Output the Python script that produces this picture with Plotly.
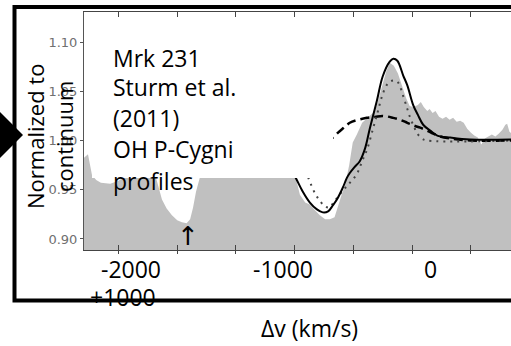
import plotly.graph_objects as go

# ---------------- data ----------------
spec_v = [-2800, -2760, -2726, -2690, -2650, -2570, -2500, -2450, -2400, -2300, -2230, -2180,
          -2130, -2090, -2045, -2000, -1960, -1920, -1890, -1865, -1840, -1815, -1790, -1700,
          -1400, -1100, -1010, -990, -955, -910, -870, -825, -785, -740, -700, -660, -640,
          -605, -570, -535, -505, -470, -425, -375, -315, -290, -255, -220, -190, -155, -120,
          -85, -50, -20, 10, 50, 75, 100, 130, 150, 175, 200, 230, 260, 290, 320, 350, 380,
          410, 440, 470, 500, 530, 560, 590, 620, 650, 680, 710, 740, 770, 795, 810, 830, 850]
spec_f = [0.982, 0.986, 0.965, 0.960, 0.957, 0.956, 0.959, 0.963, 0.968, 0.970, 0.967, 0.962,
          0.940, 0.931, 0.924, 0.919, 0.917, 0.916, 0.920, 0.932, 0.948, 0.960, 0.970, 0.978,
          0.980, 0.978, 0.968, 0.962, 0.945, 0.937, 0.935, 0.929, 0.924, 0.920, 0.920, 0.922,
          0.930, 0.943, 0.955, 0.975, 0.998, 1.006, 1.018, 1.023, 1.030, 1.040, 1.055, 1.070,
          1.079, 1.076, 1.068, 1.055, 1.043, 1.035, 1.034, 1.036, 1.039, 1.034, 1.030, 1.032,
          1.028, 1.030, 1.024, 1.022, 1.024, 1.021, 1.023, 1.019, 1.020, 1.018, 1.012, 1.008,
          1.005, 1.003, 0.996, 1.002, 1.004, 1.006, 1.004, 1.007, 1.011, 1.016, 1.017, 1.009,
          1.007]

total_v = [-2650, -1400, -1200, -1125, -1040, -990, -930, -870, -810, -760, -715, -675, -640,
           -590, -555, -530, -490, -445, -400, -360, -300, -250, -190, -160, -125, -75, -40,
           10, 50, 95, 155, 215, 325, 495, 850]
total_f = [1.000, 1.000, 0.999, 0.988, 0.973, 0.962, 0.948, 0.937, 0.930, 0.927, 0.928, 0.934,
           0.940, 0.952, 0.962, 0.967, 0.973, 0.979, 0.992, 1.012, 1.040, 1.065, 1.080, 1.083,
           1.081, 1.066, 1.056, 1.036, 1.026, 1.016, 1.010, 1.005, 1.003, 1.001, 1.001]

dotted_v = [-2650, -1100, -1000, -950, -910, -870, -810, -740, -700, -675, -590, -530, -470,
            -425, -380, -330, -290, -250, -205, -160, -120, -75, -40, -15, 20, 45, 85, 130, 850]
dotted_f = [1.000, 1.000, 0.997, 0.985, 0.972, 0.958, 0.943, 0.933, 0.932, 0.936, 0.949, 0.957,
            0.966, 0.979, 0.992, 1.013, 1.030, 1.047, 1.058, 1.061, 1.059, 1.045, 1.032, 1.023,
            1.013, 1.007, 1.002, 1.000, 1.000]

dashed_v = [-2650, -800, -740, -675, -630, -580, -530, -460, -385, -315, -250, -160, -100,
            -40, 20, 70, 130, 180, 240, 325, 495, 850]
dashed_f = [1.000, 1.000, 1.002, 1.003, 1.008, 1.013, 1.018, 1.021, 1.023, 1.024, 1.025, 1.023,
            1.021, 1.018, 1.015, 1.013, 1.010, 1.007, 1.004, 1.002, 1.000, 1.000]

y_ticks = [0.90, 0.95, 1.00, 1.05, 1.10]
x_labels = ["-2000", "-1000", "0"]
label_lines = ["Mrk 231", "Sturm et al.", "(2011)", "OH P-Cygni", "profiles"]
arrow_v = -1908

# ---------------- figure ----------------
W, H = 511, 346
L, R, T, B = 84, 0, 12, 96
PW, PH = W - L - R, H - T - B
X_RANGE = [-2794, 843]


def px(x):
    return (x - L) / PW


def py(y):
    return (H - B - y) / PH


fig = go.Figure()
fig.add_trace(go.Scatter(x=spec_v, y=spec_f, mode="lines", line=dict(width=0, color="#c0c0c0"),
                         fill="tozeroy", fillcolor="#c0c0c0", hoverinfo="skip"))
fig.add_trace(go.Scatter(x=dashed_v, y=dashed_f, mode="lines",
                         line=dict(color="black", width=2.5, dash="9px,5px", shape="spline")))
fig.add_trace(go.Scatter(x=dotted_v, y=dotted_f, mode="lines",
                         line=dict(color="#444444", width=2, dash="2px,5px", shape="spline")))
fig.add_trace(go.Scatter(x=total_v, y=total_f, mode="lines",
                         line=dict(color="black", width=2, shape="spline")))
# invisible trace to carry the secondary (outside-tick) bottom axis
fig.add_trace(go.Scatter(x=[X_RANGE[0]], y=[1.0], xaxis="x2", mode="lines",
                         line=dict(width=0), hoverinfo="skip"))

font_main = "Open Sans, Noto Sans, sans-serif"
ann = []
line_centres = [57.5, 87, 118, 149, 181]
for txt, yc in zip(label_lines, line_centres):
    ann.append(dict(x=px(111), y=py(yc), xref="paper", yref="paper", text=txt, showarrow=False,
                    xanchor="left", yanchor="middle", font=dict(family=font_main, size=23, color="black")))
for txt, xc in zip(x_labels, [131, 283, 430]):
    ann.append(dict(x=px(xc), y=py(269), xref="paper", yref="paper", text=txt, showarrow=False,
                    xanchor="center", yanchor="middle", font=dict(family=font_main, size=23, color="black")))
ann.append(dict(x=px(123), y=py(297), xref="paper", yref="paper", text="+1000", showarrow=False,
                xanchor="center", yanchor="middle", font=dict(family=font_main, size=23, color="black")))
ann.append(dict(x=px(309), y=py(328), xref="paper", yref="paper", text="Δv (km/s)", showarrow=False,
                xanchor="center", yanchor="middle", font=dict(family=font_main, size=23, color="black")))
ann.append(dict(x=px(49), y=py(137), xref="paper", yref="paper", text="Normalized to<br>continuum",
                showarrow=False, textangle=-90, xanchor="center", yanchor="middle",
                font=dict(family=font_main, size=22, color="black")))
ann.append(dict(x=arrow_v, y=0.903, xref="x", yref="y", text="↑", showarrow=False,
                xanchor="center", yanchor="middle", font=dict(family="DejaVu Sans", size=26, color="black")))

shapes = [
    # white text box
    dict(type="rect", xref="paper", yref="paper", x0=px(92), x1=px(333), y0=py(178), y1=py(17),
         fillcolor="white", line=dict(width=0), layer="above"),
    # outer frame
    dict(type="rect", xref="paper", yref="paper", x0=px(14.5), x1=px(525), y0=py(300.5), y1=py(7),
         line=dict(color="black", width=4), fillcolor="rgba(0,0,0,0)", layer="above"),
    # pointer triangle
    dict(type="path", xref="paper", yref="paper",
         path=f"M {px(-2)} {py(110)} L {px(23)} {py(135)} L {px(-2)} {py(160)} Z",
         fillcolor="black", line=dict(width=0), layer="above"),
]

fig.update_layout(
    width=W, height=H, margin=dict(l=L, r=R, t=T, b=B),
    paper_bgcolor="white", plot_bgcolor="white", showlegend=False,
    annotations=ann, shapes=shapes,
    xaxis=dict(range=X_RANGE, tick0=0, dtick=500, ticks="inside", ticklen=5, tickcolor="#444",
               showticklabels=False, showline=True, linecolor="#444", linewidth=1, mirror="ticks",
               showgrid=False, zeroline=False),
    xaxis2=dict(range=X_RANGE, tick0=0, dtick=500, ticks="outside", ticklen=3, tickcolor="#444",
                showticklabels=False, showline=False, overlaying="x", side="bottom", anchor="y",
                showgrid=False, zeroline=False),
    yaxis=dict(range=[0.8888, 1.1305], tickvals=y_ticks, ticktext=[f"{v:.2f}" for v in y_ticks],
               ticks="outside", ticklen=3, tickcolor="#555", showline=True, linecolor="#555",
               linewidth=1, showgrid=False, zeroline=False,
               tickfont=dict(family="DejaVu Sans", size=13, color="#707070")),
)

fig.write_html("out.html", config={"displayModeBar": False},
               post_script="document.body.style.margin='0';document.body.style.overflow='hidden';")
